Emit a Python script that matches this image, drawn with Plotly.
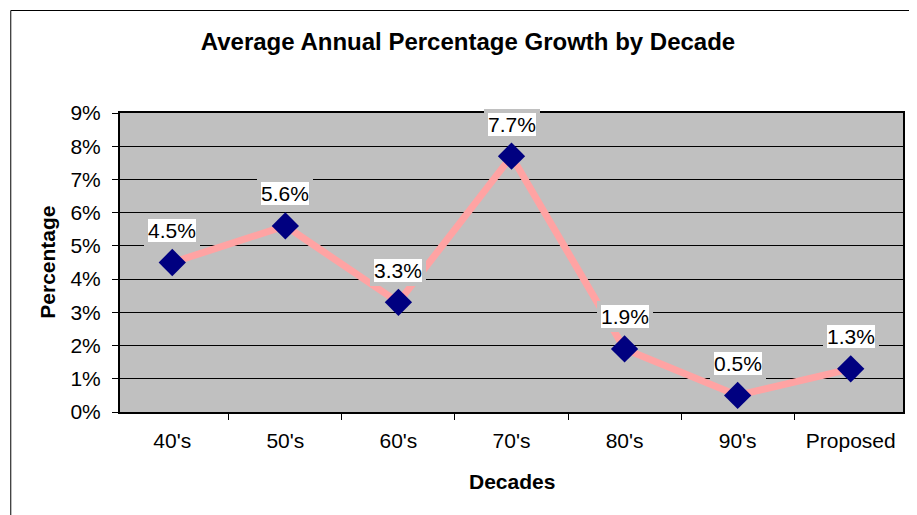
import plotly.graph_objects as go

decades = ["40's", "50's", "60's", "70's", "80's", "90's", "Proposed"]
growth = [0.045, 0.056, 0.033, 0.077, 0.019, 0.005, 0.013]
growth_labels = ["4.5%", "5.6%", "3.3%", "7.7%", "1.9%", "0.5%", "1.3%"]
y_ticks = [0, 0.01, 0.02, 0.03, 0.04, 0.05, 0.06, 0.07, 0.08, 0.09]

FONT = "Liberation Sans, Arial, sans-serif"

# page has an 8px body margin; figure is sized to fit the window
W, H = 909, 507
L, R, T, B = 112, 12, 105, 103
PW, PH = W - L - R, H - T - B  # 785 x 299

fig = go.Figure()
fig.add_trace(go.Scatter(
    x=decades, y=growth, mode="lines+markers",
    line=dict(color="#FFA3A3", width=7),
    marker=dict(symbol="diamond", size=21, color="#000080",
                line=dict(color="#000080", width=0)),
    showlegend=False, hoverinfo="skip",
))

annotations = []
for d, v, t in zip(decades, growth, growth_labels):
    annotations.append(dict(
        x=d, y=v, xref="x", yref="y", text=t, showarrow=False,
        yshift=32, font=dict(family=FONT, size=21, color="black"),
        bgcolor="white", bordercolor="#C0C0C0", borderwidth=4, borderpad=0,
    ))

annotations.append(dict(
    text="<b>Percentage</b>", xref="paper", yref="paper",
    x=(39 - L) / PW, y=0.5,
    textangle=-90, showarrow=False, font=dict(family=FONT, size=21, color="black"),
    xanchor="center", yanchor="middle",
))
annotations.append(dict(
    text="<b>Decades</b>", xref="paper", yref="paper", x=0.5,
    y=((T + PH) - 473) / PH,
    showarrow=False, font=dict(family=FONT, size=21, color="black"),
    xanchor="center", yanchor="middle",
))

fig.update_layout(
    width=W, height=H,
    margin=dict(l=L, r=R, t=T, b=B),
    paper_bgcolor="white", plot_bgcolor="#C0C0C0",
    title=dict(text="<b>Average Annual Percentage Growth by Decade</b>",
               x=460 / W, xanchor="center", y=1 - 34 / H, yanchor="middle",
               yref="container",
               font=dict(family=FONT, size=24, color="black")),
    font=dict(family=FONT, size=21, color="black"),
    annotations=annotations,
    shapes=[dict(type="rect", xref="paper", yref="paper",
                 x0=(2.5 - L) / PW, x1=(W + 20 - L) / PW,
                 y0=((T + PH) - (H + 20)) / PH, y1=((T + PH) - 2.5) / PH,
                 line=dict(color="black", width=1), fillcolor="rgba(0,0,0,0)",
                 layer="below")],
)

fig.update_xaxes(
    type="category", tickson="boundaries", ticks="outside", ticklen=6,
    tickcolor="black", tickwidth=1, showgrid=False,
    showline=True, linecolor="black", linewidth=2, mirror=True,
    tickfont=dict(family=FONT, size=21, color="black"),
    ticklabelstandoff=9, zeroline=False,
)
fig.update_yaxes(
    range=[0, 0.09], tickvals=y_ticks, tickformat=".0%", ticks="outside",
    ticklen=6, tickcolor="black", tickwidth=1,
    showgrid=True, gridcolor="black", gridwidth=1,
    showline=True, linecolor="black", linewidth=2, mirror=True,
    tickfont=dict(family=FONT, size=21, color="black"),
    ticklabelstandoff=7, zeroline=False,
)

fig.write_html("out.html")
